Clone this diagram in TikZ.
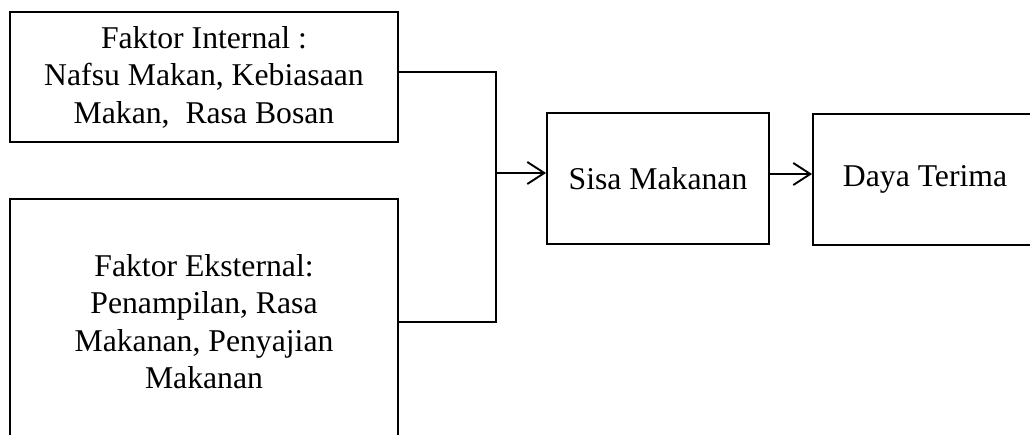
\documentclass[tikz,border=0pt]{standalone}
\usepackage{fontspec}
\setmainfont{Liberation Serif}
\usetikzlibrary{arrows.meta}
\begin{document}
\begin{tikzpicture}[x=1pt,y=-1pt,
  boxnode/.style={draw=black, line width=1.9pt, rectangle, inner sep=0pt, align=center,
    font=\fontsize{31.7}{37.5}\selectfont},
  link/.style={draw=black, line width=1.9pt},
  arr/.style={link, -{Straight Barb[length=17pt,width=22pt,line width=1.9pt]}}]
\clip (0,0) rectangle (1030,434);
\useasboundingbox (0,0) rectangle (1030,434);
\node[boxnode, minimum width=388pt, minimum height=130pt] (internal) at (204,77)
  {\rule{0pt}{7pt}Faktor Internal :\\Nafsu Makan, Kebiasaan\\Makan,~ Rasa Bosan};
\node[boxnode, minimum width=388pt, minimum height=245pt] (eksternal) at (204,321.5)
  {Faktor Eksternal:\\Penampilan, Rasa\\Makanan, Penyajian\\Makanan};
\node[boxnode, minimum width=222pt, minimum height=131pt] (sisa) at (658,178.5)
  {Sisa Makanan};
\node[boxnode, minimum width=224pt, minimum height=131pt] (daya) at (925,179.5)
  {Daya Terima};
\coordinate (j1) at (496,72);
\coordinate (j2) at (496,322);
\coordinate (ja) at (496,173);
\coordinate (jb) at (770,174);
\draw[link] (internal.east |- j1) -- (j1) -- (j2) -- (eksternal.east |- j2);
\draw[arr] (ja) -- (sisa.west |- ja);
\draw[arr] (sisa.east |- jb) -- (daya.west |- jb);
\end{tikzpicture}
\end{document}
